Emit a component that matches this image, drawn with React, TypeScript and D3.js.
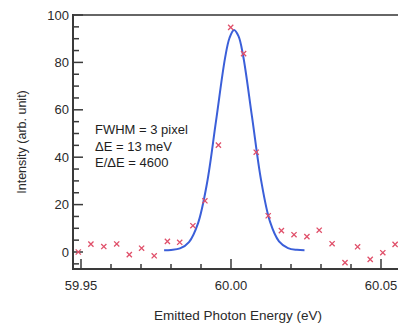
import { useEffect, useRef } from "react";
import * as d3 from "d3";

// measured points (energy in eV, intensity in arb. unit)
const dataEnergy = [
  59.9491, 59.9533, 59.9576, 59.9619, 59.9661, 59.9702, 59.9744, 59.9788,
  59.9829, 59.9873, 59.9913, 59.9958, 59.9999, 60.0042, 60.0084, 60.0124,
  60.0168, 60.021, 60.0253, 60.0294, 60.0337, 60.038, 60.0422, 60.0464,
  60.0506, 60.0547,
];
const dataIntensity = [
  0.0, 3.3, 2.3, 3.4, -1.1, 1.6, -1.6, 4.5, 4.1, 11.1, 21.6, 45.1, 94.8, 83.7,
  42.1, 15.3, 9.0, 7.3, 6.5, 9.2, 3.5, -4.5, 2.2, -3.1, -0.3, 3.2,
];

// fitted curve
const fitEnergy = [
  59.9777, 59.98, 59.983, 59.986, 59.989, 59.992, 59.995, 59.998, 59.9995,
  60.001, 60.0025, 60.004, 60.007, 60.01, 60.013, 60.016, 60.019, 60.022,
  60.0245,
];
const fitIntensity = [
  0.7, 0.85, 1.5, 4.2, 12.1, 29.0, 55.2, 81.7, 90.3, 93.7, 91.1, 83.1, 57.1,
  30.5, 12.8, 4.5, 1.65, 0.9, 0.75,
];

const xTicks = [59.95, 60.0, 60.05];
const xTickLabels = ["59.95", "60.00", "60.05"];
const yTicks = [0, 20, 40, 60, 80, 100];
const notes = ["FWHM = 3 pixel", "\u0394E = 13 meV", "E/\u0394E = 4600"];

const W = 398;
const H = 323;

export default function App() {
  const ref = useRef<SVGSVGElement>(null);

  useEffect(() => {
    if (!ref.current) return;
    const svg = d3.select(ref.current);
    svg.selectAll("*").remove();

    const x = d3.scaleLinear().domain([59.95, 60.05]).range([81, 381]);
    const y = d3.scaleLinear().domain([0, 100]).range([252, 15]);

    const left = 73;
    const bottom = 269;
    const top = y(100);
    const axisColor = "#3a3a3a";
    const textColor = "#2a2a2a";
    const font = "Liberation Sans, Arial, sans-serif";

    // frame: left, bottom, top
    svg
      .append("line")
      .attr("x1", left)
      .attr("x2", W)
      .attr("y1", top)
      .attr("y2", top)
      .attr("stroke", "#666")
      .attr("stroke-width", 2.2);
    svg
      .append("line")
      .attr("x1", left)
      .attr("x2", left)
      .attr("y1", top - 1)
      .attr("y2", bottom + 1)
      .attr("stroke", axisColor)
      .attr("stroke-width", 2);
    svg
      .append("line")
      .attr("x1", left - 1)
      .attr("x2", W)
      .attr("y1", bottom)
      .attr("y2", bottom)
      .attr("stroke", axisColor)
      .attr("stroke-width", 2);

    // y ticks (inward)
    const yMinor = d3.range(-5, 101, 5);
    svg
      .append("g")
      .selectAll("line")
      .data(yMinor)
      .join("line")
      .attr("x1", left)
      .attr("x2", (d) => (d % 20 === 0 ? left + 10 : left + 6))
      .attr("y1", (d) => y(d))
      .attr("y2", (d) => y(d))
      .attr("stroke", axisColor)
      .attr("stroke-width", 1.5);

    svg
      .append("g")
      .selectAll("text")
      .data(yTicks)
      .join("text")
      .attr("x", left - 4)
      .attr("y", (d) => y(d))
      .attr("dy", "0.36em")
      .attr("text-anchor", "end")
      .attr("font-family", font)
      .attr("font-size", 13)
      .attr("fill", textColor)
      .text((d) => d);

    // x ticks (inward)
    const xMinor = d3.range(0, 11).map((i) => 59.95 + i * 0.01);
    svg
      .append("g")
      .selectAll("line")
      .data(xMinor)
      .join("line")
      .attr("x1", (d) => x(d))
      .attr("x2", (d) => x(d))
      .attr("y1", bottom)
      .attr("y2", (_, i) => (i % 5 === 0 ? bottom - 10 : bottom - 5))
      .attr("stroke", axisColor)
      .attr("stroke-width", 1.5);

    svg
      .append("g")
      .selectAll("text")
      .data(xTicks)
      .join("text")
      .attr("x", (d) => x(d))
      .attr("y", 290)
      .attr("text-anchor", "middle")
      .attr("font-family", font)
      .attr("font-size", 13)
      .attr("fill", textColor)
      .text((_, i) => xTickLabels[i]);

    // axis titles
    svg
      .append("text")
      .attr("x", 238)
      .attr("y", 320)
      .attr("text-anchor", "middle")
      .attr("font-family", font)
      .attr("font-size", 13.5)
      .attr("fill", textColor)
      .text("Emitted Photon Energy (eV)");
    svg
      .append("text")
      .attr("transform", "translate(26,142) rotate(-90)")
      .attr("text-anchor", "middle")
      .attr("font-family", font)
      .attr("font-size", 12.5)
      .attr("fill", textColor)
      .text("Intensity (arb. unit)");

    // notes
    svg
      .append("g")
      .selectAll("text")
      .data(notes)
      .join("text")
      .attr("x", 95)
      .attr("y", (_, i) => 134 + i * 16.5)
      .attr("font-family", font)
      .attr("font-size", 13)
      .attr("fill", "#1e1e1e")
      .text((d) => d);

    // fit curve
    const line = d3
      .line<number>()
      .x((d) => x(d))
      .y((_, i) => y(fitIntensity[i]))
      .curve(d3.curveCatmullRom);
    svg
      .append("path")
      .attr("d", line(fitEnergy))
      .attr("fill", "none")
      .attr("stroke", "#3b5fd9")
      .attr("stroke-width", 2);

    // markers
    const s = 2.6;
    svg
      .append("g")
      .selectAll("path")
      .data(dataEnergy)
      .join("path")
      .attr("transform", (d, i) => `translate(${x(d)},${y(dataIntensity[i])})`)
      .attr("d", `M${-s},${-s}L${s},${s}M${-s},${s}L${s},${-s}`)
      .attr("stroke", "#e0506a")
      .attr("stroke-width", 1.3);
  }, []);

  return (
    <svg
      ref={ref}
      width={W}
      height={H}
      style={{ position: "absolute", left: 0, top: 0, background: "#fff" }}
    />
  );
}
